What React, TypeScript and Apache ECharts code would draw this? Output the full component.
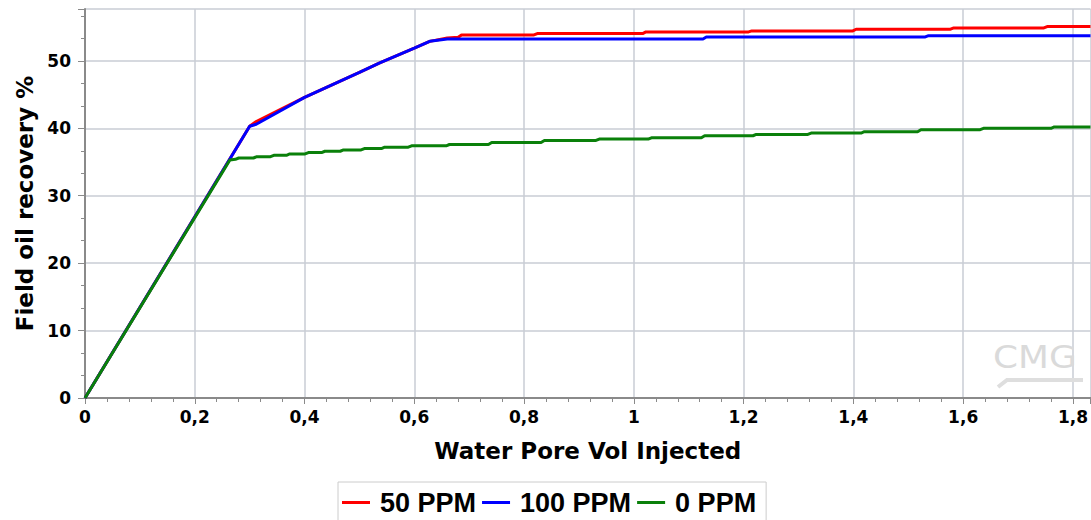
import React, { useEffect, useRef } from "react";
import * as echarts from "echarts";

const xTicks = [0, 0.2, 0.4, 0.6, 0.8, 1, 1.2, 1.4, 1.6, 1.8];
const yTicks = [0, 10, 20, 30, 40, 50];
const seriesNames = ["50 PPM", "100 PPM", "0 PPM"];
const seriesColors = ["#ff0000", "#0000ff", "#0a800a"];

const redX = [0, 0.3, 0.312, 0.4, 0.5, 0.537, 0.6, 0.628, 0.66, 0.68, 0.686, 0.818, 0.824, 1.016, 1.022, 1.209, 1.215, 1.399, 1.405, 1.577, 1.583, 1.747, 1.753, 1.832];
const redY = [0, 40.3, 41.0, 44.6, 48.3, 49.7, 51.9, 52.9, 53.4, 53.5, 53.85, 53.85, 54.05, 54.05, 54.3, 54.3, 54.45, 54.45, 54.7, 54.7, 54.9, 54.9, 55.1, 55.1];

const blueX = [0, 0.3, 0.312, 0.4, 0.5, 0.537, 0.6, 0.628, 0.66, 1.126, 1.132, 1.531, 1.537, 1.832];
const blueY = [0, 40.3, 40.6, 44.6, 48.3, 49.7, 51.9, 52.9, 53.25, 53.25, 53.55, 53.55, 53.75, 53.75];

const greenX = [0, 0.264, 0.274, 0.28, 0.307, 0.313, 0.338, 0.344, 0.367, 0.373, 0.401, 0.407, 0.431, 0.437, 0.465, 0.471, 0.503, 0.509, 0.54, 0.546, 0.589, 0.595, 0.658, 0.664, 0.735, 0.741, 0.831, 0.837, 0.931, 0.937, 1.026, 1.032, 1.123, 1.129, 1.217, 1.223, 1.317, 1.323, 1.414, 1.42, 1.517, 1.523, 1.631, 1.637, 1.76, 1.766, 1.832];
const greenY = [0, 35.3, 35.4, 35.6, 35.6, 35.8, 35.8, 36.0, 36.0, 36.2, 36.2, 36.4, 36.4, 36.6, 36.6, 36.8, 36.8, 37.0, 37.0, 37.2, 37.2, 37.4, 37.4, 37.6, 37.6, 37.9, 37.9, 38.2, 38.2, 38.4, 38.4, 38.6, 38.6, 38.9, 38.9, 39.1, 39.1, 39.3, 39.3, 39.5, 39.5, 39.8, 39.8, 40.0, 40.0, 40.2, 40.2];

const xMax = 1.832;
const yMax = 57.7;

const zip = (xs: number[], ys: number[]) => xs.map((x, i) => [x, ys[i]]);

const axisFont = "DejaVu Sans";

export default function App() {
  const ref = useRef<HTMLDivElement>(null);
  useEffect(() => {
    if (!ref.current) return;
    const chart = echarts.init(ref.current, null, { renderer: "svg" });
    const fmtX = (v: number) => {
      const hit = xTicks.find((t) => Math.abs(t - v) < 1e-6);
      if (hit === undefined) return "";
      return String(hit).replace(".", ",");
    };
    const fmtY = (v: number) => {
      const hit = yTicks.find((t) => Math.abs(t - v) < 1e-6);
      return hit === undefined ? "" : String(hit);
    };
    const lineSeries = (i: number, xs: number[], ys: number[]) => ({
      name: seriesNames[i],
      type: "line",
      data: zip(xs, ys),
      showSymbol: false,
      symbol: "none",
      lineStyle: { color: seriesColors[i], width: 3 },
      itemStyle: { color: seriesColors[i] },
      z: 3 + i,
    });
    chart.setOption({
      animation: false,
      backgroundColor: "#ffffff",
      grid: { left: 85, right: 0, top: 9, bottom: 122, containLabel: false },
      legend: {
        data: seriesNames,
        left: 338,
        top: 482,
        orient: "horizontal",
        icon: "rect",
        itemWidth: 28,
        itemHeight: 3,
        itemGap: 6,
        padding: [7, 10, 10, 4],
        borderColor: "#cccccc",
        borderWidth: 1,
        textStyle: {
          fontFamily: "Liberation Sans",
          fontWeight: "bold",
          fontSize: 27,
          color: "#000",
          padding: [0, 0, 0, 5],
        },
      },
      xAxis: {
        type: "value",
        min: 0,
        max: xMax,
        interval: 0.2,
        name: "Water Pore Vol Injected",
        nameLocation: "middle",
        nameGap: 41,
        nameTextStyle: { fontFamily: axisFont, fontWeight: "bold", fontSize: 23, color: "#000" },
        axisLine: { lineStyle: { color: "#8a8a8a", width: 2 } },
        axisTick: { show: true, length: 6, lineStyle: { color: "#8a8a8a", width: 1 } },
        minorTick: { show: true, splitNumber: 5, length: 4, lineStyle: { color: "#8a8a8a", width: 1 } },
        axisLabel: {
          formatter: fmtX,
          showMaxLabel: false,
          margin: 10,
          fontFamily: axisFont,
          fontWeight: "bold",
          fontSize: 17,
          color: "#000",
        },
        splitLine: { show: true, lineStyle: { color: "#c9cdd4", width: 1.5 } },
      },
      yAxis: {
        type: "value",
        min: 0,
        max: yMax,
        interval: 10,
        name: "Field oil recovery %",
        nameLocation: "middle",
        nameGap: 48,
        nameRotate: 90,
        nameTextStyle: { fontFamily: axisFont, fontWeight: "bold", fontSize: 23, color: "#000" },
        axisLine: { show: true, lineStyle: { color: "#8a8a8a", width: 2 } },
        axisTick: { show: true, length: 7, lineStyle: { color: "#8a8a8a", width: 1 } },
        minorTick: { show: true, splitNumber: 3, length: 4, lineStyle: { color: "#8a8a8a", width: 1 } },
        axisLabel: {
          formatter: fmtY,
          showMaxLabel: false,
          margin: 14,
          fontFamily: axisFont,
          fontWeight: "bold",
          fontSize: 17,
          color: "#000",
        },
        splitLine: { show: true, lineStyle: { color: "#c9cdd4", width: 1.5 } },
      },
      graphic: [
        {
          type: "text",
          x: 993,
          y: 341,
          scaleX: 1.12,
          z: 1,
          style: {
            text: "CMG",
            fontFamily: "DejaVu Sans",
            fontSize: 32,
            fontWeight: "normal",
            fill: "#dadada",
          },
        },
        {
          type: "polyline",
          z: 1,
          shape: { points: [[998, 387], [1007, 380], [1083, 380]] },
          style: { stroke: "#dedede", lineWidth: 4, fill: "none" },
        },
      ],
      series: [
        lineSeries(0, redX, redY),
        lineSeries(1, blueX, blueY),
        lineSeries(2, greenX, greenY),
      ],
    });
    return () => chart.dispose();
  }, []);
  return (
    <div
      ref={ref}
      style={{ position: "fixed", left: 0, top: 0, width: 1091, height: 520, background: "#fff" }}
    />
  );
}
